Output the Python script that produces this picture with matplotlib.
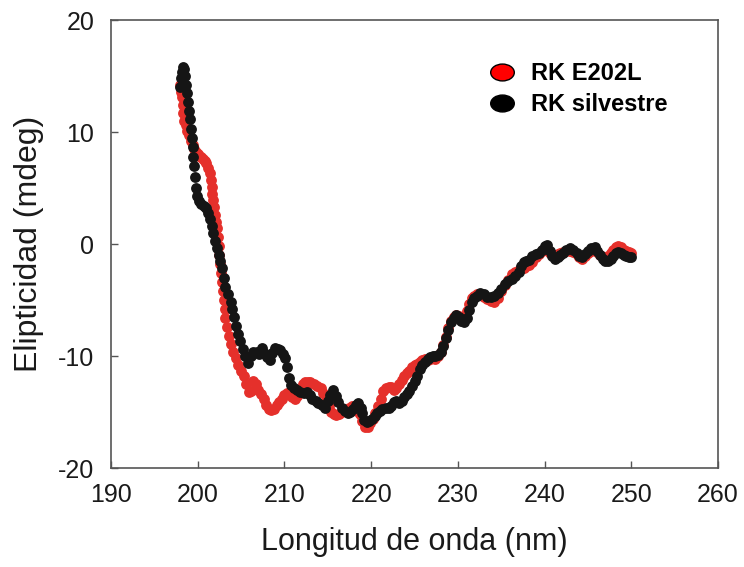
import matplotlib
matplotlib.use('Agg')
from matplotlib import pyplot as plt
from matplotlib.path import Path
from matplotlib.transforms import Affine2D

plt.rcParams['font.family'] = ['Liberation Sans', 'DejaVu Sans']
plt.rcParams['axes.unicode_minus'] = False

# RK silvestre (black)
wl_silv = [198.0, 198.1, 198.2, 198.3, 198.4, 198.5, 198.6, 198.8, 198.9, 199.0,
           199.1, 199.2, 199.3, 199.4, 199.5, 199.6, 199.7, 199.8, 199.9, 200.1,
           200.4, 200.7, 201.0, 201.2, 201.4, 201.6, 201.8, 202.0, 202.2, 202.4,
           202.6, 202.8, 203.0, 203.2, 203.5, 203.8, 204.0, 204.2, 204.4, 204.6,
           204.9, 205.2, 205.5, 205.8, 206.1, 206.4, 206.8, 207.1, 207.4, 207.7,
           208.0, 208.3, 208.6, 208.9, 209.2, 209.5, 209.8, 210.1, 210.3, 210.5,
           210.8, 211.1, 211.5, 211.8, 212.2, 212.6, 212.9, 213.2, 213.6, 213.9,
           214.3, 214.7, 215.0, 215.3, 215.6, 215.9, 216.2, 216.6, 217.0, 217.3,
           217.6, 217.9, 218.2, 218.5, 218.8, 219.0, 219.2, 219.5, 219.8, 220.1,
           220.4, 220.7, 221.0, 221.3, 221.7, 222.0, 222.3, 222.6, 222.9, 223.2,
           223.5, 223.8, 224.1, 224.4, 224.7, 225.0, 225.3, 225.6, 225.9, 226.2,
           226.5, 226.8, 227.1, 227.4, 227.7, 228.0, 228.3, 228.6, 228.9, 229.2,
           229.5, 229.8, 230.1, 230.4, 230.7, 231.0, 231.3, 231.6, 231.9, 232.2,
           232.6, 233.0, 233.4, 233.8, 234.2, 234.6, 235.0, 235.4, 235.8, 236.2,
           236.6, 237.0, 237.3, 237.6, 237.9, 238.2, 238.6, 239.0, 239.4, 239.7,
           240.0, 240.3, 240.6, 240.9, 241.2, 241.5, 241.8, 242.1, 242.5, 242.9,
           243.3, 243.7, 244.0, 244.3, 244.7, 245.0, 245.4, 245.8, 246.1, 246.4,
           246.7, 247.0, 247.3, 247.6, 247.9, 248.2, 248.5, 248.8, 249.1, 249.4,
           249.7, 250.0]
cd_silv = [14.0, 14.8, 15.4, 15.8, 15.6, 15.0, 14.2, 13.5, 12.7, 11.9,
           11.2, 10.3, 9.5, 8.7, 7.8, 7.0, 6.0, 5.0, 4.3, 3.8,
           3.6, 3.4, 3.2, 2.8, 2.2, 1.6, 1.0, 0.3, -0.4, -1.0,
           -1.5, -2.1, -3.0, -3.8, -4.5, -5.2, -5.8, -6.5, -7.3, -8.0,
           -8.7, -9.4, -10.0, -10.6, -10.0, -9.6, -9.6, -9.8, -9.3, -9.7,
           -10.1, -10.4, -9.7, -9.3, -9.4, -9.5, -9.8, -10.2, -11.0, -12.0,
           -12.6, -12.9, -13.0, -13.2, -13.3, -13.2, -13.5, -13.8, -14.0, -14.2,
           -14.4, -14.6, -14.0, -13.5, -13.0, -13.6, -14.1, -14.6, -14.9, -15.1,
           -15.0, -14.7, -14.4, -14.2, -14.6, -15.1, -15.7, -15.9, -15.8, -15.6,
           -15.4, -15.1, -14.9, -14.7, -14.6, -14.6, -14.5, -14.1, -14.0, -14.2,
           -14.0, -13.7, -13.4, -13.1, -12.7, -12.2, -11.8, -11.2, -10.8, -10.5,
           -10.3, -10.1, -10.0, -10.0, -9.9, -9.6, -9.1, -8.4, -7.7, -7.0,
           -6.6, -6.3, -6.5, -6.9, -7.0, -6.6, -5.9, -5.2, -4.8, -4.6,
           -4.4, -4.5, -4.7, -4.7, -4.6, -4.4, -4.0, -3.6, -3.3, -3.1,
           -2.9, -2.5, -2.0, -1.6, -1.5, -1.4, -1.1, -0.9, -0.8, -0.5,
           -0.2, -0.1, -0.6, -1.1, -1.3, -1.2, -1.0, -0.8, -0.5, -0.4,
           -0.5, -0.8, -1.1, -1.2, -0.9, -0.6, -0.4, -0.3, -0.6, -1.0,
           -1.3, -1.5, -1.5, -1.3, -1.1, -0.8, -0.7, -0.8, -1.0, -1.1,
           -1.2, -1.2]

# RK E202L (red)
wl_mut = [198.0, 198.1, 198.2, 198.3, 198.35, 198.4, 198.6, 198.8, 199.0, 199.2,
          199.4, 199.6, 199.8, 200.0, 200.2, 200.4, 200.6, 200.8, 201.0, 201.2,
          201.4, 201.5, 201.6, 201.7, 201.8, 201.9, 202.0, 202.1, 202.2, 202.3,
          202.4, 202.5, 202.6, 202.7, 202.8, 202.9, 203.0, 203.1, 203.2, 203.4,
          203.6, 203.8, 204.1, 204.4, 204.7, 205.0, 205.3, 205.6, 205.9, 206.1,
          206.4, 206.7, 207.0, 207.3, 207.6, 207.9, 208.2, 208.5, 208.8, 209.1,
          209.4, 209.7, 210.0, 210.3, 210.6, 210.9, 211.2, 211.5, 211.8, 212.1,
          212.4, 212.7, 213.0, 213.4, 213.8, 214.2, 214.5, 214.8, 215.1, 215.4,
          215.7, 216.0, 216.3, 216.6, 216.9, 217.2, 217.5, 217.8, 218.1, 218.4,
          218.7, 219.0, 219.3, 219.6, 219.9, 220.2, 220.5, 220.8, 221.1, 221.4,
          221.7, 222.0, 222.3, 222.6, 222.9, 223.2, 223.5, 223.8, 224.1, 224.4,
          224.7, 225.0, 225.3, 225.6, 225.9, 226.2, 226.5, 226.8, 227.1, 227.4,
          227.7, 228.0, 228.3, 228.6, 228.9, 229.2, 229.5, 229.8, 230.1, 230.4,
          230.7, 231.0, 231.3, 231.6, 231.9, 232.2, 232.6, 233.0, 233.4, 233.8,
          234.2, 234.6, 235.0, 235.4, 235.8, 236.2, 236.6, 237.0, 237.3, 237.6,
          237.9, 238.2, 238.6, 239.0, 239.4, 239.7, 240.0, 240.3, 240.6, 240.9,
          241.2, 241.5, 241.8, 242.1, 242.5, 242.9, 243.3, 243.7, 244.0, 244.3,
          244.7, 245.0, 245.4, 245.8, 246.1, 246.4, 246.7, 247.0, 247.3, 247.6,
          247.9, 248.2, 248.5, 248.8, 249.1, 249.4, 249.7, 250.0]
cd_mut = [14.2, 13.6, 13.1, 12.4, 11.7, 11.0, 10.6, 10.1, 9.7, 9.2,
          8.8, 8.5, 8.2, 8.0, 7.9, 7.8, 7.6, 7.4, 7.2, 6.8,
          6.3, 5.7, 5.1, 4.5, 3.9, 3.3, 2.6, 2.0, 1.4, 0.6,
          -0.2, -1.0, -1.8, -2.6, -3.4, -4.2, -5.0, -5.8, -6.6, -7.4,
          -8.2, -8.9, -9.6, -10.2, -10.8, -11.3, -11.8, -12.5, -13.2, -13.1,
          -12.2, -12.5, -13.0, -13.4, -13.8, -14.4, -14.7, -14.8, -14.7, -14.4,
          -14.1, -13.8, -13.5, -13.3, -13.4, -13.7, -13.8, -13.6, -13.1, -12.5,
          -12.3, -12.3, -12.3, -12.5, -12.7, -12.9, -13.3, -13.9, -14.5, -15.0,
          -15.2, -15.3, -15.2, -15.0, -14.8, -14.7, -14.6, -14.5, -14.6, -14.9,
          -15.2, -15.8, -16.3, -16.3, -16.0, -15.6, -15.1, -14.5, -13.8, -13.1,
          -12.9, -12.8, -12.8, -13.0, -12.9, -12.5, -12.1, -11.8, -11.5, -11.3,
          -11.0, -10.8, -10.7, -10.5, -10.4, -10.3, -10.4, -10.3, -10.2, -10.3,
          -10.0, -9.6, -9.0, -8.3, -7.5, -6.9, -6.5, -6.3, -6.4, -6.6,
          -6.5, -6.0, -5.4, -4.8, -4.6, -4.5, -4.5, -4.7, -4.9, -5.1,
          -5.2, -4.8, -4.2, -3.7, -3.2, -2.7, -2.5, -2.3, -2.2, -2.1,
          -2.0, -1.9, -1.6, -1.2, -0.9, -0.6, -0.4, -0.5, -0.8, -1.0,
          -1.0, -0.9, -0.8, -0.7, -0.6, -0.6, -0.7, -0.9, -1.2, -1.3,
          -1.1, -0.8, -0.6, -0.5, -0.7, -1.0, -1.2, -1.3, -1.1, -0.8,
          -0.5, -0.3, -0.2, -0.3, -0.5, -0.6, -0.7, -0.8]

labels = ['RK E202L', 'RK silvestre']
x_ticks = [190, 200, 210, 220, 230, 240, 250, 260]
y_ticks = [-20, -10, 0, 10, 20]

fig = plt.figure(figsize=(7.44, 5.67), dpi=100)
ax = fig.add_axes([0.1492, 0.1746, 0.8159, 0.7901])

ax.plot(wl_mut, cd_mut, linestyle='none', marker='o', markersize=7.8,
        color='#e5302b', markeredgewidth=0)
ax.plot(wl_silv, cd_silv, linestyle='none', marker='o', markersize=7.8,
        color='#151515', markeredgewidth=0)

ax.set_xlim(190, 260)
ax.set_ylim(-20, 20)
ax.set_xticks(x_ticks)
ax.set_yticks(y_ticks)
ax.tick_params(direction='in', length=5, width=1, color='#555555',
               labelsize=18, labelcolor='#1a1a1a')
ax.tick_params(axis='x', pad=11)
ax.tick_params(axis='y', pad=12)
for s in ax.spines.values():
    s.set_color('#555555')
    s.set_linewidth(1.2)

ax.set_xlabel('Longitud de onda (nm)', fontsize=22, color='#1a1a1a', labelpad=14)
ax.set_ylabel('Elipticidad (mdeg)', fontsize=23, color='#1a1a1a', labelpad=10)

# oval legend markers
oval = Path.unit_circle().transformed(Affine2D().scale(1.4, 1.0))
h1, = ax.plot([], [], linestyle='none', marker=oval, markersize=17,
              markerfacecolor='#ff0000', markeredgecolor='black', markeredgewidth=1)
h2, = ax.plot([], [], linestyle='none', marker=oval, markersize=17,
              markerfacecolor='black', markeredgecolor='black', markeredgewidth=1)
leg = ax.legend([h1, h2], labels, loc='upper left', bbox_to_anchor=(0.624, 0.906),
                frameon=False, handlelength=1.0, handletextpad=0.75,
                labelspacing=0.35, borderaxespad=0, borderpad=0,
                prop={'weight': 'bold', 'size': 17})

fig.savefig('out.png', dpi=100)
